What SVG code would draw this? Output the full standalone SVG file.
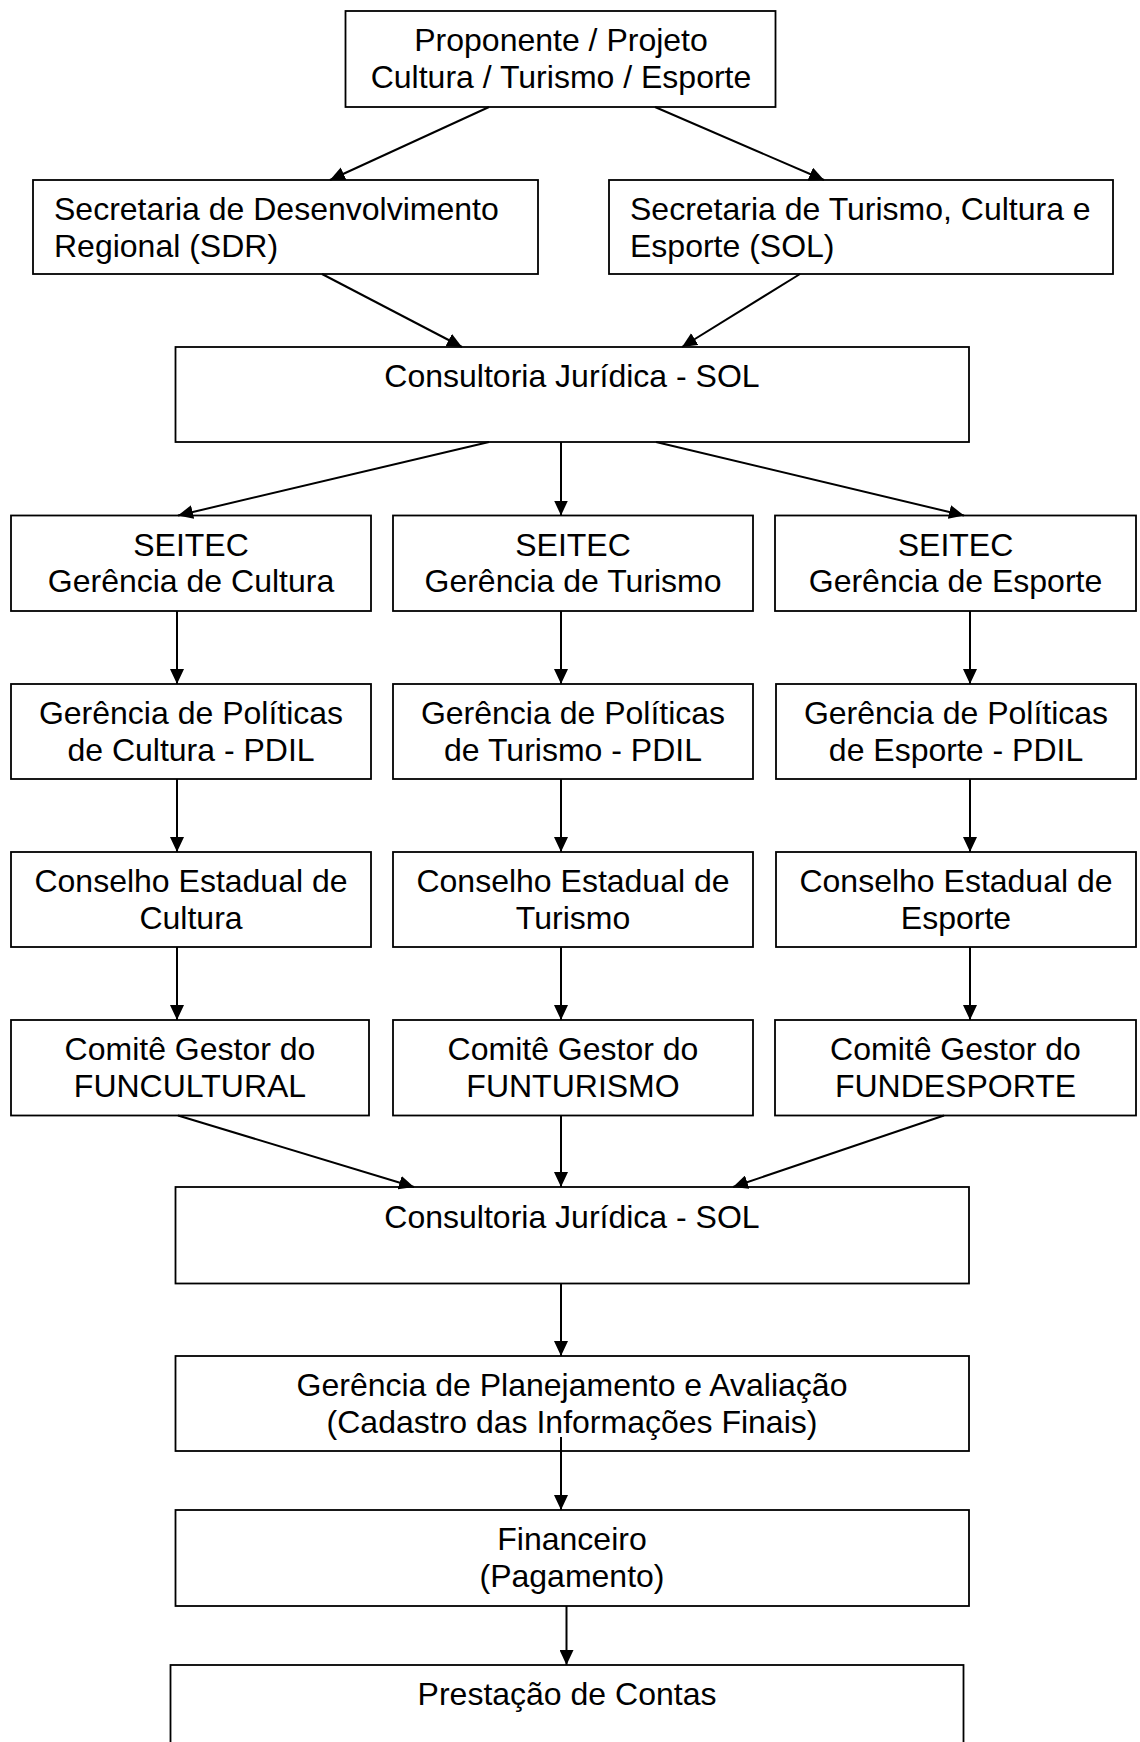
<svg xmlns="http://www.w3.org/2000/svg" width="1140" height="1742" viewBox="0 0 1140 1742">
<style>
rect.box{fill:#fff;stroke:#000;stroke-width:1.8}
text{font-family:"Liberation Sans",Arial,sans-serif;font-size:32px;fill:#000}
.c{text-anchor:middle}
#connectors line{stroke:#000;stroke-width:2;marker-end:url(#arr)}
</style>
<defs>
<marker id="arr" markerUnits="userSpaceOnUse" viewBox="0 0 15 14" refX="15" refY="7" markerWidth="15" markerHeight="14" orient="auto">
<path d="M0,0 L15,7 L0,14 z" fill="#000"/>
</marker>
</defs>
<rect width="1140" height="1742" fill="#fff"/>
<g id="n-proponente"><rect class="box" x="345.5" y="11" width="430" height="96"/><text class="c" x="561" y="51">Proponente / Projeto</text><text class="c" x="561" y="87.5">Cultura / Turismo / Esporte</text></g>
<g id="n-sdr"><rect class="box" x="33" y="180" width="505" height="94"/><text x="54" y="220">Secretaria de Desenvolvimento</text><text x="54" y="256.5">Regional (SDR)</text></g>
<g id="n-sol"><rect class="box" x="609" y="180" width="504" height="94"/><text x="630" y="220">Secretaria de Turismo, Cultura e</text><text x="630" y="256.5">Esporte (SOL)</text></g>
<g id="n-consultoria1"><rect class="box" x="175.5" y="347" width="793.5" height="95"/><text class="c" x="572" y="387">Consultoria Jurídica - SOL</text></g>
<g id="n-seitec-cultura"><rect class="box" x="11" y="515.5" width="360" height="95.5"/><text class="c" x="191" y="555.5">SEITEC</text><text class="c" x="191" y="592">Gerência de Cultura</text></g>
<g id="n-seitec-turismo"><rect class="box" x="393" y="515.5" width="360" height="95.5"/><text class="c" x="573" y="555.5">SEITEC</text><text class="c" x="573" y="592">Gerência de Turismo</text></g>
<g id="n-seitec-esporte"><rect class="box" x="775" y="515.5" width="361" height="95.5"/><text class="c" x="955.5" y="555.5">SEITEC</text><text class="c" x="955.5" y="592">Gerência de Esporte</text></g>
<g id="n-pol-cultura"><rect class="box" x="11" y="684" width="360" height="95"/><text class="c" x="191" y="724">Gerência de Políticas</text><text class="c" x="191" y="760.5">de Cultura - PDIL</text></g>
<g id="n-pol-turismo"><rect class="box" x="393" y="684" width="360" height="95"/><text class="c" x="573" y="724">Gerência de Políticas</text><text class="c" x="573" y="760.5">de Turismo - PDIL</text></g>
<g id="n-pol-esporte"><rect class="box" x="776" y="684" width="360" height="95"/><text class="c" x="956" y="724">Gerência de Políticas</text><text class="c" x="956" y="760.5">de Esporte - PDIL</text></g>
<g id="n-cons-cultura"><rect class="box" x="11" y="852" width="360" height="95"/><text class="c" x="191" y="892">Conselho Estadual de</text><text class="c" x="191" y="928.5">Cultura</text></g>
<g id="n-cons-turismo"><rect class="box" x="393" y="852" width="360" height="95"/><text class="c" x="573" y="892">Conselho Estadual de</text><text class="c" x="573" y="928.5">Turismo</text></g>
<g id="n-cons-esporte"><rect class="box" x="776" y="852" width="360" height="95"/><text class="c" x="956" y="892">Conselho Estadual de</text><text class="c" x="956" y="928.5">Esporte</text></g>
<g id="n-com-cultura"><rect class="box" x="11" y="1020" width="358" height="95.5"/><text class="c" x="190" y="1060">Comitê Gestor do</text><text class="c" x="190" y="1096.5">FUNCULTURAL</text></g>
<g id="n-com-turismo"><rect class="box" x="393" y="1020" width="360" height="95.5"/><text class="c" x="573" y="1060">Comitê Gestor do</text><text class="c" x="573" y="1096.5">FUNTURISMO</text></g>
<g id="n-com-esporte"><rect class="box" x="775" y="1020" width="361" height="95.5"/><text class="c" x="955.5" y="1060">Comitê Gestor do</text><text class="c" x="955.5" y="1096.5">FUNDESPORTE</text></g>
<g id="n-consultoria2"><rect class="box" x="175.5" y="1187" width="793.5" height="96.5"/><text class="c" x="572" y="1228">Consultoria Jurídica - SOL</text></g>
<g id="n-planejamento"><rect class="box" x="175.5" y="1356" width="793.5" height="95"/><text class="c" x="572" y="1396">Gerência de Planejamento e Avaliação</text><text class="c" x="572" y="1432.5">(Cadastro das Informações Finais)</text></g>
<g id="n-financeiro"><rect class="box" x="175.5" y="1510" width="793.5" height="96"/><text class="c" x="572" y="1550">Financeiro</text><text class="c" x="572" y="1586.5">(Pagamento)</text></g>
<g id="n-prestacao"><rect class="box" x="170.5" y="1665" width="793" height="100"/><text class="c" x="567" y="1705">Prestação de Contas</text></g>
<g id="connectors">
<line x1="489" y1="107" x2="330" y2="180"/>
<line x1="655" y1="107" x2="824" y2="180"/>
<line x1="322" y1="274" x2="462" y2="347"/>
<line x1="800" y1="274" x2="682" y2="347"/>
<line x1="489" y1="442" x2="178" y2="515.5"/>
<line x1="561" y1="442" x2="561" y2="515.5"/>
<line x1="656" y1="442" x2="964" y2="515.5"/>
<line x1="177" y1="611" x2="177" y2="684"/>
<line x1="561" y1="611" x2="561" y2="684"/>
<line x1="970" y1="611" x2="970" y2="684"/>
<line x1="177" y1="779" x2="177" y2="852"/>
<line x1="561" y1="779" x2="561" y2="852"/>
<line x1="970" y1="779" x2="970" y2="852"/>
<line x1="177" y1="947" x2="177" y2="1020"/>
<line x1="561" y1="947" x2="561" y2="1020"/>
<line x1="970" y1="947" x2="970" y2="1020"/>
<line x1="178" y1="1115.5" x2="414" y2="1187"/>
<line x1="561" y1="1115.5" x2="561" y2="1187"/>
<line x1="944" y1="1115.5" x2="733" y2="1187"/>
<line x1="561" y1="1283.5" x2="561" y2="1356"/>
<line x1="561" y1="1437" x2="561" y2="1510"/>
<line x1="566.5" y1="1606" x2="566.5" y2="1665"/>
</g>
</svg>
